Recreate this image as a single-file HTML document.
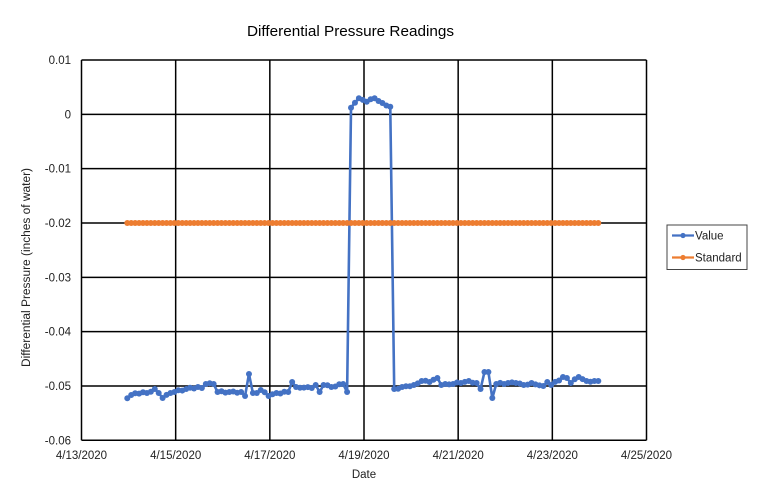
<!DOCTYPE html>
<html><head><meta charset="utf-8"><style>
html,body{margin:0;padding:0;background:#fff;}
svg{display:block;font-family:"Liberation Sans",sans-serif;}
</style></head><body>
<svg id="c" width="768" height="495" viewBox="0 0 768 495" xmlns="http://www.w3.org/2000/svg">
<rect width="768" height="495" fill="#fff"/>
<text x="350.5" y="36" font-size="15" text-anchor="middle" textLength="207" lengthAdjust="spacingAndGlyphs" fill="#000">Differential Pressure Readings</text>
<g id="grid" stroke="#000" stroke-width="1.5" fill="none"></g>
<g id="ylab" font-size="11.5" text-anchor="end" fill="#222"></g>
<g id="xlab" font-size="11.5" text-anchor="middle" fill="#222"></g>
<text x="364" y="478" font-size="11.5" text-anchor="middle" fill="#222">Date</text>
<text transform="translate(30,267.5) rotate(-90)" font-size="11.5" text-anchor="middle" textLength="199" lengthAdjust="spacingAndGlyphs" fill="#222">Differential Pressure (inches of water)</text>
<g id="series"></g>
<rect x="667" y="225" width="80" height="44.5" fill="#fff" stroke="#444" stroke-width="1"/>
<line x1="672" y1="235.5" x2="694" y2="235.5" stroke="#4472C4" stroke-width="2.2"/>
<circle cx="683" cy="235.5" r="2.6" fill="#4472C4"/>
<text x="695" y="239.5" font-size="11.5" fill="#222">Value</text>
<line x1="672" y1="257.5" x2="694" y2="257.5" stroke="#ED7D31" stroke-width="2.2"/>
<circle cx="683" cy="257.5" r="2.6" fill="#ED7D31"/>
<text x="695" y="261.5" font-size="11.5" fill="#222">Standard</text>
</svg>
<script>
(function(){
var NS="http://www.w3.org/2000/svg";
function el(t,a,p){var e=document.createElementNS(NS,t);for(var k in a)e.setAttribute(k,a[k]);if(p)p.appendChild(e);return e;}
var L=81.5,R=646.5,T=60,B=440.3;
var grid=document.getElementById('grid');
var ylab=document.getElementById('ylab');
var xlab=document.getElementById('xlab');
var yv=["0.01","0","-0.01","-0.02","-0.03","-0.04","-0.05","-0.06"];
for(var i=0;i<8;i++){var y=T+(B-T)*i/7;
 el('line',{x1:L,y1:y,x2:R,y2:y},grid);
 var t=el('text',{x:71,y:y+4},ylab);t.textContent=yv[i];}
var xv=["4/13/2020","4/15/2020","4/17/2020","4/19/2020","4/21/2020","4/23/2020","4/25/2020"];
for(var j=0;j<7;j++){var x=L+(R-L)*j/6;
 el('line',{x1:x,y1:T,x2:x,y2:B},grid);
 var t2=el('text',{x:x,y:459},xlab);t2.textContent=xv[j];}
var kp=[[127.3,398.3],[133,395],[143,392.3],[148,393],[155,389],[158,393],[163,398],[170,393],[175,392],[187,389],[197,387],[202,388],[207,384],[212,387],[215,384],[218,392],[230,392],[240,392],[246,396],[250,374],[253,393],[258,393],[262,390],[268,396],[277,393],[287,392],[293,382],[298,387],[310,388],[317,385],[320,392],[325,385],[333,387],[343,384],[348,392],[352,107.7],[355,102.7],[360,98.3],[367,101.7],[375,98.3],[383,103],[391,106.7],[395,389],[403,387],[413,385],[420,381],[430,382],[438,378],[443,385],[453,384],[467,381],[477,383],[482,389],[485,372],[490,372],[493,398],[497,384],[507,383],[517,383],[525,385],[533,383],[542,386],[548,382],[553,385],[562,377],[567,378],[572,383],[580,377],[587,381],[595,381],[597,381]];
var x0=127.3,dx=3.925,N=Math.round((597-x0)/dx);
var ys=new Array(N+1),set=new Array(N+1);
kp.forEach(function(p){var i=Math.round((p[0]-x0)/dx);if(i>N)i=N;ys[i]=p[1];set[i]=1;});
var last=0;
for(var i=1;i<=N;i++){if(set[i]){for(var k=last+1;k<i;k++){var f=(k-last)/(i-last);ys[k]=ys[last]+(ys[i]-ys[last])*f+Math.sin(k*2.3)*0.8;}last=i;}}
var s=document.getElementById('series');
var yo=T+(B-T)*3/7;
var po="",pv="";
for(var i=0;i<=N;i++){var x=x0+i*dx;po+=x.toFixed(2)+","+yo.toFixed(2)+" ";pv+=x.toFixed(2)+","+ys[i].toFixed(2)+" ";}
el('polyline',{points:pv,fill:'none',stroke:'#4472C4','stroke-width':2.6,'stroke-linejoin':'round'},s);
for(var i=0;i<=N;i++)el('circle',{cx:x0+i*dx,cy:ys[i],r:3,fill:'#4472C4'},s);
el('polyline',{points:po,fill:'none',stroke:'#ED7D31','stroke-width':2.6},s);
for(var i=0;i<=N;i++)el('circle',{cx:x0+i*dx,cy:yo,r:3,fill:'#ED7D31'},s);
})();
</script>
</body></html>
